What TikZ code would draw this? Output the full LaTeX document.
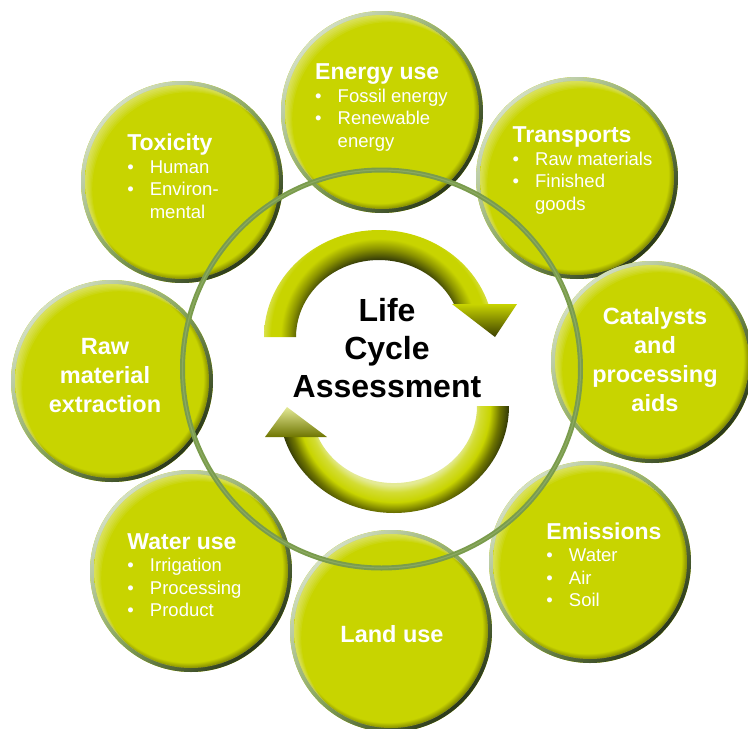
\documentclass[tikz,border=0pt]{standalone}
\usepackage{fontspec}
\setmainfont{Liberation Sans}
\usepackage{tikz}
\definecolor{ballgreen}{HTML}{C8D400}
\definecolor{balldark}{HTML}{2F3608}
\definecolor{balllight}{HTML}{E4EA96}
\definecolor{rimlight}{HTML}{D2DEC4}
\definecolor{rimmid}{HTML}{86A45C}
\definecolor{rimdark}{HTML}{2A381A}
\definecolor{ringgreen}{HTML}{7A9C4C}
\pgfdeclareradialshading{ballshade}{\pgfpoint{-2bp}{2bp}}{color(0bp)=(ballgreen); color(24.3bp)=(ballgreen); color(26bp)=(ballgreen!60!black); color(27.8bp)=(balldark); color(40bp)=(balldark)}
\pgfdeclareradialshading{arrowup}{\pgfpointorigin}{color(0bp)=(balldark); color(16bp)=(balldark); color(18.5bp)=(ballgreen!70!black); color(20.5bp)=(ballgreen); color(22.5bp)=(ballgreen); color(24bp)=(ballgreen!70!white); color(25bp)=(balllight); color(50bp)=(balllight)}
\pgfdeclareradialshading{arrowdown}{\pgfpointorigin}{color(0bp)=(balllight); color(16.5bp)=(balllight); color(18bp)=(ballgreen!80!white); color(20bp)=(ballgreen); color(22bp)=(ballgreen!55!black); color(24bp)=(balldark); color(25bp)=(balldark); color(50bp)=(balldark)}
\tikzstyle{ball} = [circle, minimum size=202pt, inner sep=0pt, fill=ballgreen, path picture={
  \coordinate (pc) at (path picture bounding box.center);
  \shade[top color=rimlight, bottom color=rimdark, middle color=rimmid, shading angle=45] (pc) circle (101pt);
  \shade[shading=ballshade] (pc) circle (97pt);
  \begin{scope}
    \clip (pc) circle (97pt);
    \foreach \k in {1,...,6}
      \fill[white, opacity=0.07, even odd rule] (pc) circle (97pt) ([shift={({1.2*\k},{-1.2*\k})}]pc) circle (97pt);
  \end{scope}}]
\tikzstyle{itemtext} = [text=white, align=left, inner sep=0pt, font=\fontsize{18.5}{22.5}\selectfont]
\tikzstyle{boldtext} = [text=white, align=center, inner sep=0pt, font=\bfseries\fontsize{23.5}{29}\selectfont]
\tikzstyle{core} = [align=center, inner sep=0pt, font=\bfseries\fontsize{32}{38}\selectfont]
\newcommand{\hd}[1]{{\bfseries\fontsize{23}{22.5}\selectfont #1}}
\newcommand{\bul}{\makebox[22.5pt][l]{\textbullet}}
\newcommand{\nobul}{\hspace*{22.5pt}}

\begin{document}
\begin{tikzpicture}[x=1pt, y=1pt]
\useasboundingbox (0,0) rectangle (748,-729);

\node [ball] (energy) at (382,-112) {};
\node [ball] (transport) at (577,-178) {};
\node [ball] (catalyst) at (652,-362) {};
\node [ball] (emission) at (590,-562) {};
\node [ball] (land) at (391,-631) {};
\node [ball] (water) at (191,-571) {};
\node [ball] (raw) at (112,-381) {};
\node [ball] (toxic) at (182,-182) {};

\draw [ringgreen, line width=5pt] (381.5,-369) circle (199pt);
\draw [ringgreen!88!white, line width=1.2pt] (381.5,-369) circle (199pt);

\node [itemtext] (energytext) at (381.5,-107.5) {\hd{Energy use}\\ \bul Fossil energy\\ \bul Renewable\\ \nobul energy};
\node [itemtext] (transporttext) at (582.5,-170.5) {\hd{Transports}\\ \bul Raw materials\\ \bul Finished\\ \nobul goods};
\node [boldtext] (catalysttext) at (655,-359.5) {Catalysts\\and\\processing\\aids};
\node [itemtext] (emissiontext) at (604,-564.5) {\hd{Emissions}\\ \bul Water\\ \bul Air\\ \bul Soil};
\node [boldtext] (landtext) at (392,-634.5) {Land use};
\node [itemtext] (watertext) at (184.5,-575) {\hd{Water use}\\ \bul Irrigation\\ \bul Processing\\ \bul Product};
\node [boldtext] (rawtext) at (105,-376) {Raw\\material\\extraction};
\node [itemtext] (toxictext) at (173,-176.5) {\hd{Toxicity}\\ \bul Human\\ \bul Environ-\\ \nobul mental};

% upper arrow
\begin{scope}
\clip (264,-337) arc[start angle=180, end angle=18, x radius=115pt, y radius=107pt] -- (454,-304) arc[start angle=25.4, end angle=180, x radius=83pt, y radius=77pt] -- cycle;
\shade [shading=arrowup] (379,-337) circle (120pt);
\end{scope}
\shade [top color=ballgreen, bottom color=ballgreen!30!black] (452,-304) -- (517,-304) -- (495,-337) -- cycle;

% lower arrow
\begin{scope}
\clip (509,-406) arc[start angle=0, end angle=-163.2, x radius=115pt, y radius=107pt] -- (318,-437) arc[start angle=-156.3, end angle=0, x radius=83pt, y radius=77pt] -- cycle;
\shade [shading=arrowdown] (394,-406) circle (120pt);
\end{scope}
\shade [top color=balllight, bottom color=ballgreen!55!black] (265,-437) -- (327,-437) -- (287,-407) -- cycle;

\node [core] (lca) at (387,-348.5) {Life\\Cycle\\Assessment};
\end{tikzpicture}
\end{document}
